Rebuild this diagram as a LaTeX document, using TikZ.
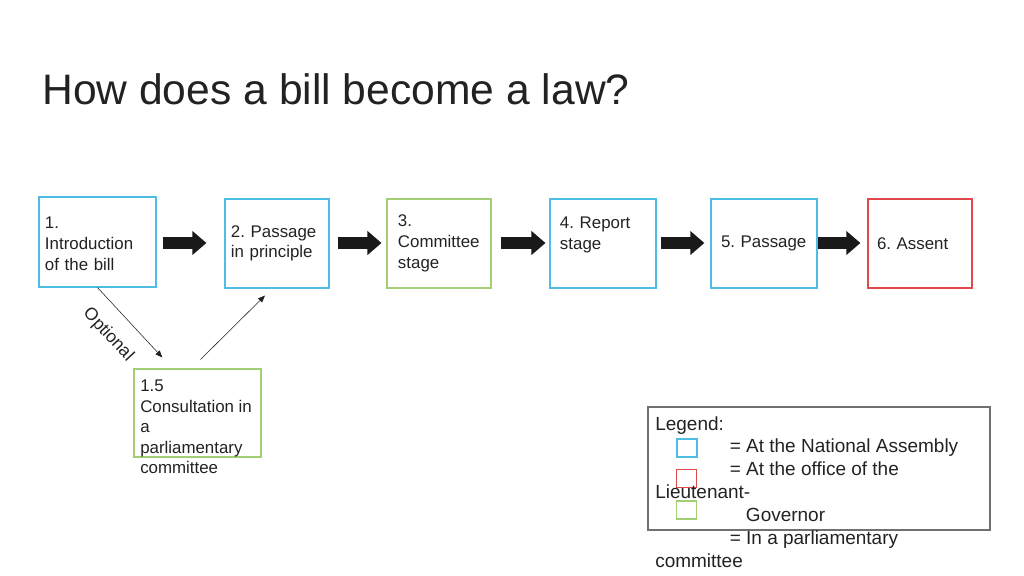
\documentclass[tikz,border=0pt]{standalone}
\usepackage{fontspec}
\setmainfont{Liberation Sans}
\usepackage{xcolor}
\usetikzlibrary{arrows.meta, calc}
\definecolor{nacyan}{HTML}{4DBDE6}
\definecolor{ltred}{HTML}{E2474C}
\definecolor{comgreen}{HTML}{A3CF74}
\definecolor{inkgrey}{HTML}{222222}
\definecolor{framegrey}{HTML}{707070}

\begin{document}
\frenchspacing\hyphenpenalty=10000
\begin{tikzpicture}[x=0.025cm, y=-0.025cm, >={Triangle[length=5pt, width=4pt]},
    stage/.style={draw, line width=0.8pt, minimum height=2.225cm, text width=2.2cm, inner xsep=0.2cm, inner ysep=0pt, align=left, font=\fontsize{12}{14.7}\selectfont, text=inkgrey},
    assembly/.style={stage, draw=nacyan},
    committee/.style={stage, draw=comgreen},
    governor/.style={stage, draw=ltred},
    keybox/.style={minimum width=0.5cm, minimum height=0.45cm, inner sep=0pt, line width=0.8pt},
    bigarrow/.style={line width=9.2pt, draw=black!90, -{Triangle[length=10pt, width=16.5pt]}}]
  \useasboundingbox (0,0) rectangle (1024,576);

  \node[anchor=base west, inner sep=0pt, font=\fontsize{30.3}{36}\selectfont, text=inkgrey] (title) at (42,105) {How does a bill become a law?};

  % the six stages
  \node[assembly, text width=2.625cm, inner xsep=0.15cm, minimum height=2.25cm] (b1) at (97.5,242) {\\[-4pt]1.\\Introduction\\of the bill};
  \node[assembly, inner xsep=0.15cm, text width=2.3cm] (b2) at (277,243.5) {2. Passage\\in principle};
  \node[committee, inner xsep=0.275cm, text width=2.05cm] (b3) at (439,243.5) {3.\\Committee\\stage};
  \node[assembly, inner xsep=0.25cm, text width=2.15cm] (b4) at (603,243.5) {4. Report\\stage\\~};
  \node[assembly, inner xsep=0.25cm, text width=2.15cm] (b5) at (764,243.5) {5. Passage};
  \node[governor, inner xsep=0.225cm, text width=2.15cm] (b6) at (920,243.5) {6. Assent};

  \foreach \from/\to/\gapA/\gapB in {b1/b2/4.3pt/12.8pt, b2/b3/5.7pt/3.5pt, b3/b4/6.4pt/2.8pt, b4/b5/2.8pt/4.3pt, b5/b6/0pt/5pt}
    \draw[bigarrow, shorten <=\gapA, shorten >=\gapB] (\from.east |- 0,243) -- (\to.west |- 0,243);

  % optional consultation
  \node[draw=comgreen, line width=0.8pt, minimum width=3.175cm, minimum height=2.2cm, inner sep=0pt] (b15) at (197.5,413) {};
  \node[anchor=north west, align=left, inner sep=0pt, font=\fontsize{12}{14.5}\selectfont, text=inkgrey] (b15-text) at (140,380) {1.5\\Consultation in\\a\\parliamentary\\committee};

  \draw[->, inkgrey, line width=0.4pt, shorten >=10.6pt] (b1.south) -- node[pos=0.38, sloped, below=8pt, font=\fontsize{12.5}{15}\selectfont, text=inkgrey] {Optional} ($(b15.north)+(-25,0)$);
  \draw[->, inkgrey, line width=0.4pt, shorten <=9pt, shorten >=7pt] ($(b15.north)+(-6,0)$) -- ($(b2.south)+(-5,0)$);

  % legend
  \node[draw=framegrey, line width=0.8pt, minimum width=8.55cm, minimum height=3.075cm, inner sep=0pt] (legend) at (819,468.5) {};
  \node[keybox, draw=nacyan] (key-na) at (687,448) {};
  \node[keybox, draw=ltred] (key-lg) at (686.5,478.5) {};
  \node[keybox, draw=comgreen] (key-pc) at (686.5,510) {};
  \node[anchor=north west, align=left, inner sep=0pt, font=\fontsize{13.5}{16.3}\selectfont, text=inkgrey] (legend-text) at (655,416) {Legend:\\\hspace*{53pt}= At the National Assembly\\\hspace*{53pt}= At the office of the\\Lieutenant-\\\hspace*{64.5pt}Governor\\\hspace*{53pt}= In a parliamentary\\committee};
\end{tikzpicture}
\end{document}
